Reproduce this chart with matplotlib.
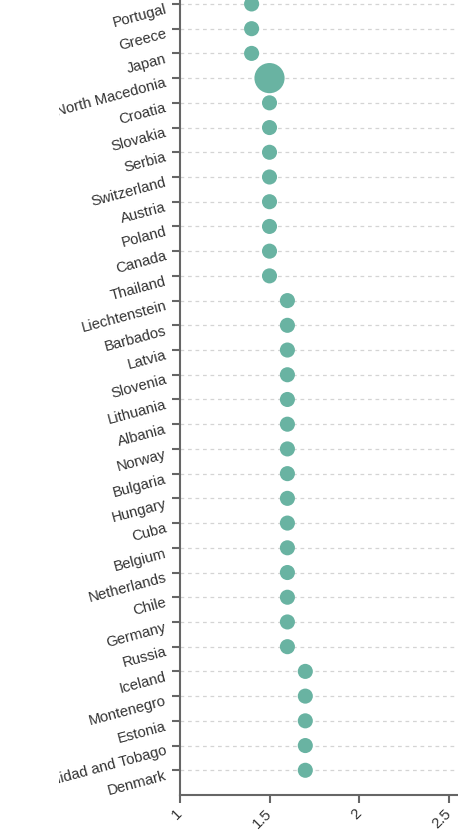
import matplotlib
matplotlib.use("Agg")
import matplotlib.pyplot as plt
import matplotlib.transforms as mtrans

countries = ["Portugal", "Greece", "Japan", "North Macedonia", "Croatia", "Slovakia",
             "Serbia", "Switzerland", "Austria", "Poland", "Canada", "Thailand",
             "Liechtenstein", "Barbados", "Latvia", "Slovenia", "Lithuania", "Albania",
             "Norway", "Bulgaria", "Hungary", "Cuba", "Belgium", "Netherlands", "Chile",
             "Germany", "Russia", "Iceland", "Montenegro", "Estonia",
             "Trinidad and Tobago", "Denmark"]
values = [1.4, 1.4, 1.4, 1.5, 1.5, 1.5, 1.5, 1.5, 1.5, 1.5, 1.5, 1.5,
          1.6, 1.6, 1.6, 1.6, 1.6, 1.6, 1.6, 1.6, 1.6, 1.6, 1.6, 1.6, 1.6, 1.6, 1.6,
          1.7, 1.7, 1.7, 1.7, 1.7]
weights = [1, 1, 1, 4.0, 1, 1, 1, 1, 1, 1, 1, 1,
           1, 1, 1, 1, 1, 1, 1, 1, 1, 1, 1, 1, 1, 1, 1,
           1, 1, 1, 1, 1]
xticks = [1, 1.5, 2, 2.5]
xticklabels = ["1", "1.5", "2", "2.5"]

plt.rcParams['font.family'] = ['Liberation Sans', 'DejaVu Sans']

fig = plt.figure(figsize=(4.58, 8.32), dpi=100)
ax = fig.add_axes([180 / 458, 37 / 832, 1 - 180 / 458, 1 - 37 / 832])

pos = list(range(len(countries)))
for p in pos:
    ax.axhline(p, color="#d4d4d4", lw=0.9, ls=(0, (3, 3)), zorder=0)

ax.scatter(values, pos, s=[118 * w for w in weights], color="#69b3a2", zorder=3,
           edgecolors="none", clip_on=False)

ax.set_xlim(1, 2.553)
ax.set_ylim(32.0, -0.16)

ax.set_yticks(pos)
ax.set_yticklabels(countries, rotation=15, ha="right", va="center",
                   rotation_mode="anchor", fontsize=10.7, color="#333333")
ax.set_xticks(xticks)
ax.set_xticklabels(xticklabels, rotation=45, ha="right", va="center",
                   rotation_mode="anchor", fontsize=10.7, color="#333333")

ax.tick_params(axis="y", length=6, width=1.5, color="#666666", pad=4)
ax.tick_params(axis="x", length=6, width=1.5, color="#666666", pad=6)

for side in ["top", "right"]:
    ax.spines[side].set_visible(False)
for side in ["left", "bottom"]:
    ax.spines[side].set_color("#666666")
    ax.spines[side].set_linewidth(1.5)

offset = mtrans.ScaledTranslation(0, -5 / 100, fig.dpi_scale_trans)
clip = mtrans.TransformedBbox(mtrans.Bbox([[59 / 458, 0], [1, 1]]), fig.transFigure)
for lbl in ax.get_yticklabels():
    lbl.set_transform(lbl.get_transform() + offset)
    lbl.set_clip_box(clip)
    lbl.set_clip_on(True)

fig.savefig("out.png", dpi=100)
